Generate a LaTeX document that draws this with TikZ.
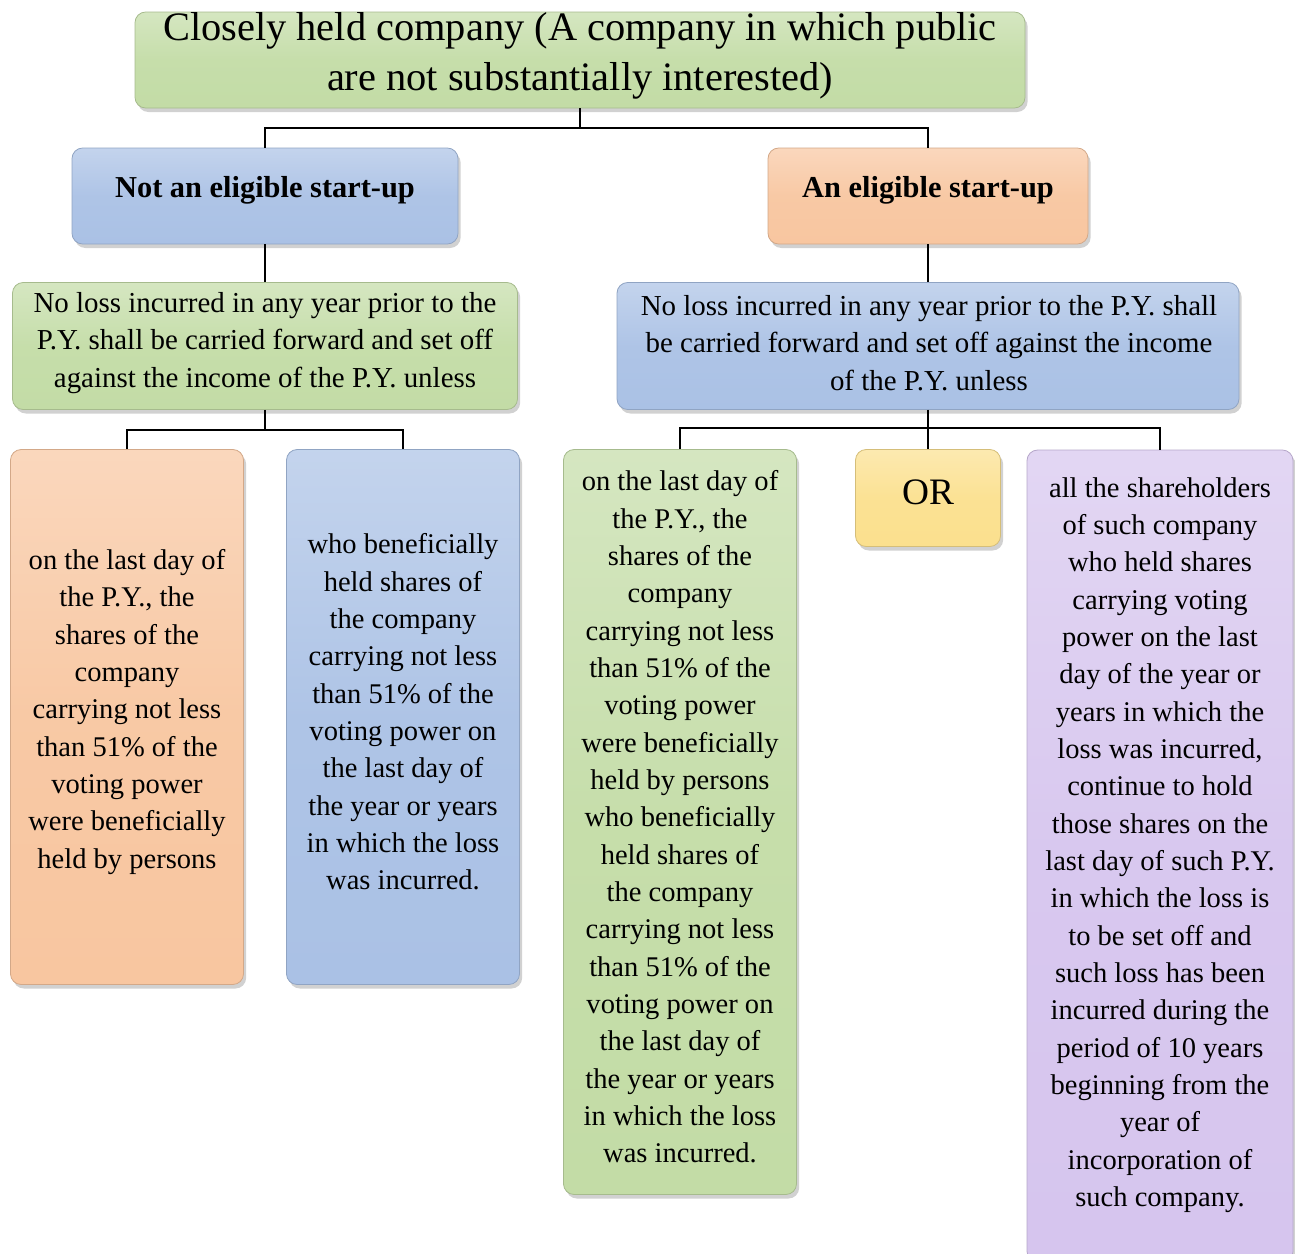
\documentclass[tikz,border=0pt]{standalone}
\usepackage{fontspec}
\setmainfont{Liberation Serif}
\usetikzlibrary{shadows}
\definecolor{cgreen}{HTML}{C3DCA6}
\definecolor{cblue}{HTML}{AAC1E5}
\definecolor{corange}{HTML}{F8C6A0}
\definecolor{cyellow}{HTML}{FBE08E}
\definecolor{cpurple}{HTML}{D6C5EE}
\begin{document}
\begin{tikzpicture}[x=0.75pt,y=-0.75pt]
\useasboundingbox (0,0) rectangle (1295,1253);
\tikzset{
  boxshape/.style={rectangle, rounded corners=8pt, inner sep=0pt,
    top color=#1!70!white, bottom color=#1, middle color=#1!95!white,
    draw=#1!85!black, line width=0.6pt,
    drop shadow={shadow xshift=2pt, shadow yshift=-3pt, opacity=0.3, fill=black!60}},
  txt/.style={inner sep=0pt, align=center, text=black},
  tall/.style={txt, font=\fontsize{21.4}{28}\selectfont},
  mid/.style={txt, font=\fontsize{21.7}{28}\selectfont},
  head/.style={txt, font=\fontsize{22.8}{26}\selectfont\bfseries},
  conn/.style={line width=1.7pt, black}
}
% boxes
\node[boxshape=cgreen, minimum width=667.5pt, minimum height=72pt] (top) at (580,60) {};
\node[txt, font=\fontsize{30.3}{37.5}\selectfont] (toptxt) at (580,56) {Closely held company (A company in which public\\are not substantially interested)};

\node[boxshape=cblue, minimum width=289.5pt, minimum height=72pt] (ne) at (265,196) {};
\node[head] (netxt) at (265,190) {Not an eligible start-up};

\node[boxshape=corange, minimum width=240pt, minimum height=72pt] (el) at (928,196) {};
\node[head] (eltxt) at (928,190) {An eligible start-up};

\node[boxshape=cgreen, minimum width=378.75pt, minimum height=95.25pt] (lg) at (265,346) {};
\node[mid] (lgtxt) at (265,343) {No loss incurred in any year prior to the\\P.Y. shall be carried forward and set off\\against the income of the P.Y. unless};

\node[boxshape=cblue, minimum width=466.5pt, minimum height=95.25pt] (rb) at (928,346) {};
\node[mid] (rbtxt) at (929,343) {No loss incurred in any year prior to the P.Y. shall\\be carried forward and set off against the income\\of the P.Y. unless};

\node[boxshape=corange, minimum width=174.75pt, minimum height=401.25pt] (ob) at (127,717) {};
\node[tall] (obtxt) at (127,712) {on the last day of\\the P.Y., the\\shares of the\\company\\carrying not less\\than 51\% of the\\voting power\\were beneficially\\held by persons};

\node[boxshape=cblue, minimum width=174.75pt, minimum height=401.25pt] (bb) at (403,717) {};
\node[tall] (bbtxt) at (403,712) {who beneficially\\held shares of\\the company\\carrying not less\\than 51\% of the\\voting power on\\the last day of\\the year or years\\in which the loss\\was incurred.};

\node[boxshape=cgreen, minimum width=174.75pt, minimum height=558.75pt] (gb) at (680,822) {};
\node[tall] (gbtxt) at (680,817) {on the last day of\\the P.Y., the\\shares of the\\company\\carrying not less\\than 51\% of the\\voting power\\were beneficially\\held by persons\\who beneficially\\held shares of\\the company\\carrying not less\\than 51\% of the\\voting power on\\the last day of\\the year or years\\in which the loss\\was incurred.};

\node[boxshape=cyellow, minimum width=108.75pt, minimum height=72.75pt] (orb) at (928,498) {};
\node[txt, font=\fontsize{28}{32}\selectfont] (ortxt) at (928,492) {OR};

\node[boxshape=cpurple, minimum width=199.5pt, minimum height=609pt] (pb) at (1160,856) {};
\node[tall] (pbtxt) at (1160,845) {all the shareholders\\of such company\\who held shares\\carrying voting\\power on the last\\day of the year or\\years in which the\\loss was incurred,\\continue to hold\\those shares on the\\last day of such P.Y.\\in which the loss is\\to be set off and\\such loss has been\\incurred during the\\period of 10 years\\beginning from the\\year of\\incorporation of\\such company.};

% connectors
\coordinate (j1) at (580,128);
\draw[conn] (top.south) -- (j1);
\draw[conn] (ne.north) |- (j1) -| (el.north);
\draw[conn] (ne.south) -- (lg.north);
\draw[conn] (el.south) -- (rb.north);
\coordinate (j2) at (265,430);
\draw[conn] (lg.south) -- (j2);
\draw[conn] (ob.north) |- (j2) -| (bb.north);
\coordinate (j3) at (928,428);
\draw[conn] (rb.south) -- (j3);
\draw[conn] (gb.north) |- (j3) -| (pb.north);
\draw[conn] (j3) -- (orb.north);
\end{tikzpicture}
\end{document}
